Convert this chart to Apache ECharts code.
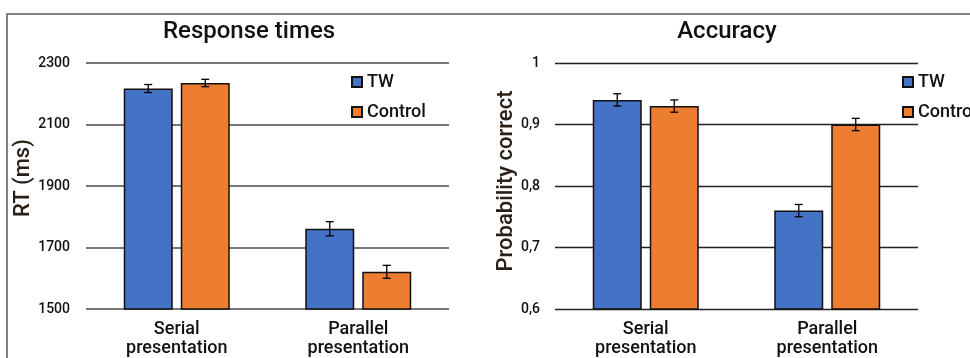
<!DOCTYPE html>
<html>
<head>
<meta charset="utf-8">
<script src="https://cdn.jsdelivr.net/npm/echarts@6/dist/echarts.min.js"></script>
<style>html,body{margin:0;padding:0;background:#fff}#c{width:970px;height:358px}</style>
</head>
<body>
<div id="c"></div>
<script>
const categories = ['Serial\npresentation', 'Parallel\npresentation'];
const seriesNames = ['TW', 'Control'];
const rtTW = [2217, 1761];
const rtControl = [2235, 1621];
const rtTWErr = [13, 23];
const rtControlErr = [12, 21];
const accTW = [0.94, 0.76];
const accControl = [0.93, 0.90];
const accTWErr = [0.01, 0.01];
const accControlErr = [0.01, 0.01];
const rtAxis = {min: 1500, max: 2300, interval: 200};
const accAxis = {min: 0.6, max: 1, interval: 0.1};

const FONT = 'Roboto';
const BLUE = '#4472C4', ORANGE = '#ED7D31';
const BAR_W = 49, BAR_GAP = 8;

function errSeries(name, xi, yi, vals, errs, side) {
  return {
    type: 'custom', name: name, xAxisIndex: xi, yAxisIndex: yi, z: 10,
    data: vals.map((v, i) => [i, v, errs[i]]),
    renderItem: function (params, api) {
      const c = api.coord([api.value(0), api.value(1)]);
      const hi = api.coord([api.value(0), api.value(1) + api.value(2)]);
      const lo = api.coord([api.value(0), api.value(1) - api.value(2)]);
      const x = c[0] + side * (BAR_W / 2 + BAR_GAP / 2);
      const st = {stroke: '#000', lineWidth: 1.3};
      return {type: 'group', children: [
        {type: 'line', shape: {x1: x, y1: hi[1], x2: x, y2: lo[1]}, style: st},
        {type: 'line', shape: {x1: x - 4, y1: hi[1], x2: x + 4, y2: hi[1]}, style: st},
        {type: 'line', shape: {x1: x - 4, y1: lo[1], x2: x + 4, y2: lo[1]}, style: st}
      ]};
    },
    tooltip: {show: false}
  };
}

function barSeries(name, xi, yi, data, color) {
  return {
    type: 'bar', name: name, xAxisIndex: xi, yAxisIndex: yi,
    data: data, barWidth: BAR_W, barGap: (BAR_GAP / BAR_W * 100) + '%',
    itemStyle: {color: color, borderColor: '#111', borderWidth: 1.5}
  };
}

const chart = echarts.init(document.getElementById('c'), null, {renderer: 'canvas'});
const xAxisCommon = {
  type: 'category', data: categories,
  axisTick: {show: false},
  axisLine: {show: false},
  axisLabel: {fontFamily: FONT, fontSize: 18, fontWeight: 500, color: '#111', lineHeight: 19, margin: 11}
};
const legendCommon = {
  data: seriesNames, top: 68, orient: 'vertical', itemWidth: 10, itemHeight: 10,
  itemGap: 12, icon: 'rect', selectedMode: false,
  textStyle: {fontFamily: FONT, fontSize: 18, fontWeight: 500, color: '#111'}
};
chart.setOption({
  animation: false,
  textStyle: {fontFamily: FONT},
  graphic: [{
    type: 'rect', shape: {x: 7, y: 14, width: 1100, height: 500},
    style: {fill: 'none', stroke: '#5a5a5a', lineWidth: 1.5}, z: -1
  }],
  title: [
    {text: 'Response times', left: 244, top: 15, textAlign: 'center',
     textStyle: {fontFamily: FONT, fontSize: 24, fontWeight: 500, color: '#111'}},
    {text: 'Accuracy', left: 722, top: 15, textAlign: 'center',
     textStyle: {fontFamily: FONT, fontSize: 24, fontWeight: 500, color: '#111'}}
  ],
  legend: [
    Object.assign({left: 346}, legendCommon),
    Object.assign({left: 897}, legendCommon)
  ],
  grid: [
    {left: 86, right: 521, top: 63, bottom: 48},
    {left: 555, right: 52, top: 63, bottom: 48}
  ],
  xAxis: [
    Object.assign({gridIndex: 0}, xAxisCommon),
    Object.assign({gridIndex: 1}, xAxisCommon)
  ],
  yAxis: [
    {type: 'value', gridIndex: 0, min: rtAxis.min, max: rtAxis.max, interval: rtAxis.interval,
     name: 'RT (ms)', nameLocation: 'middle', nameGap: 51,
     nameTextStyle: {fontFamily: FONT, fontSize: 22, fontWeight: 500, color: '#2a2018', padding: [0, 0, 0, 16]},
     axisLine: {show: false}, axisTick: {show: false},
     axisLabel: {fontFamily: FONT, fontSize: 14, fontWeight: 500, color: '#111', margin: 16,
       formatter: v => String(v)},
     splitLine: {lineStyle: {color: '#777', width: 2}}},
    {type: 'value', gridIndex: 1, min: accAxis.min, max: accAxis.max, interval: accAxis.interval,
     name: 'Probability correct', nameLocation: 'middle', nameGap: 37,
     nameTextStyle: {fontFamily: FONT, fontSize: 22, fontWeight: 500, color: '#2a2018', padding: [0, 0, 0, 10]},
     axisLine: {show: false}, axisTick: {show: false},
     axisLabel: {fontFamily: FONT, fontSize: 14, fontWeight: 500, color: '#111', margin: 15,
       formatter: v => String(Math.round(v * 10) / 10).replace('.', ',')},
     splitLine: {lineStyle: {color: '#222', width: 1.3}}}
  ],
  series: [
    barSeries('TW', 0, 0, rtTW, BLUE),
    barSeries('Control', 0, 0, rtControl, ORANGE),
    barSeries('TW', 1, 1, accTW, BLUE),
    barSeries('Control', 1, 1, accControl, ORANGE),
    errSeries('errRT1', 0, 0, rtTW, rtTWErr, -1),
    errSeries('errRT2', 0, 0, rtControl, rtControlErr, 1),
    errSeries('errAcc1', 1, 1, accTW, accTWErr, -1),
    errSeries('errAcc2', 1, 1, accControl, accControlErr, 1)
  ]
});
</script>
</body>
</html>
